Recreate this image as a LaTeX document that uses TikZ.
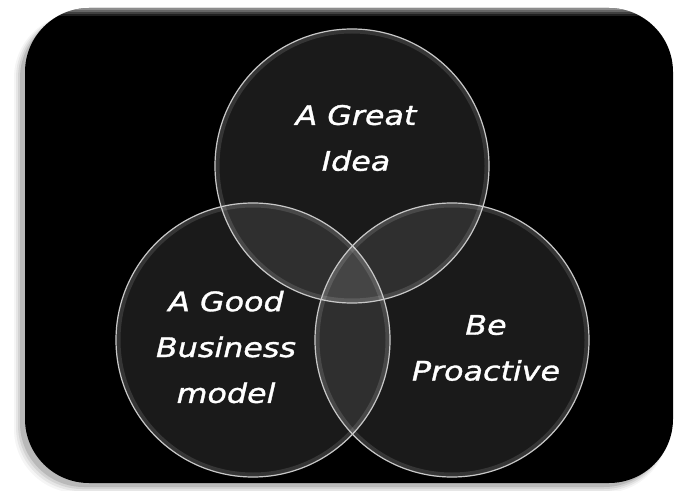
\documentclass[tikz,border=0pt]{standalone}
\usepackage{fontspec}
\newfontfamily\handfont[FakeStretch=1.18,FakeBold=1.2]{DejaVu Sans}
\definecolor{circfill}{HTML}{1A1A1A}
\definecolor{pairfill}{HTML}{2F2F2F}
\definecolor{trifill}{HTML}{454545}
\definecolor{rimcol}{HTML}{C8C8C8}
\begin{document}
\begin{tikzpicture}[x=1bp,y=-1bp,
  lbl/.style={text=white,font=\handfont\itshape\fontsize{27}{46}\selectfont,align=center},
  rim/.style={draw=rimcol,line width=1.2bp},
  glow/.style={draw=white,opacity=0.12,line width=5bp}]
\useasboundingbox (0,0) rectangle (679,491);
\fill[white] (0,0) rectangle (679,491);
% shadow of the board (down-left)
\foreach \k/\o in {6/0.04,4/0.06,2/0.08,0/0.12}{
  \fill[black,opacity=\o,rounded corners=64bp] (25-5-\k,8+6) rectangle (673-5,483+4+\k);
}
\fill[black,rounded corners=64bp] (25,8) rectangle (673,483);
% top bevel highlight
\begin{scope}
  \clip[rounded corners=64bp] (25,8) rectangle (673,483);
  \foreach \y/\o in {9/0.55,11/0.4,13/0.25,15/0.12}{
    \draw[white,opacity=\o,line width=2bp] (25,\y) -- (673,\y);
  }
\end{scope}
% circles
\coordinate (ct) at (352,166);
\coordinate (cl) at (253,340);
\coordinate (cr) at (452,340);
\fill[circfill] (ct) circle[radius=137];
\fill[circfill] (cl) circle[radius=137];
\fill[circfill] (cr) circle[radius=137];
\begin{scope}
  \clip (ct) circle[radius=137];
  \fill[pairfill] (cl) circle[radius=137];
  \fill[pairfill] (cr) circle[radius=137];
\end{scope}
\begin{scope}
  \clip (cl) circle[radius=137];
  \fill[pairfill] (cr) circle[radius=137];
\end{scope}
\begin{scope}
  \clip (ct) circle[radius=137];
  \clip (cl) circle[radius=137];
  \fill[trifill] (cr) circle[radius=137];
\end{scope}
% rims
\foreach \c in {ct,cl,cr}{
  \draw[glow] (\c) circle[radius=135];
  \draw[rim] (\c) circle[radius=137];
}
% labels
\node[lbl] (great) at (356,138) {A Great\\Idea};
\node[lbl] (good) at (226,347) {A Good\\Business\\model};
\node[lbl] (pro) at (486,348) {Be\\Proactive};
\end{tikzpicture}
\end{document}
